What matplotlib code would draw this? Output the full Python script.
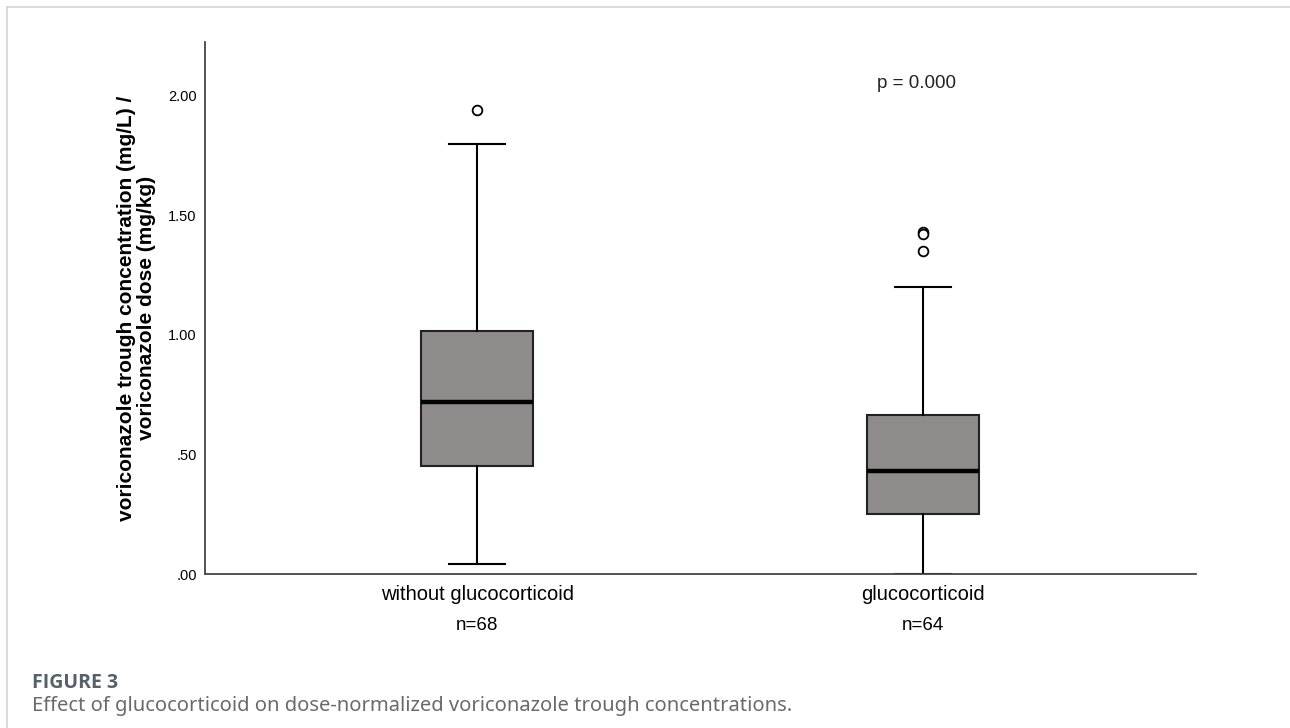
import matplotlib.pyplot as plt
from matplotlib.lines import Line2D

# summary statistics for each group
groups = ["without glucocorticoid", "glucocorticoid"]
counts = ["n=68", "n=64"]
whisker_low = [0.04, 0.0]
q1 = [0.452, 0.249]
median = [0.72, 0.43]
q3 = [1.015, 0.664]
whisker_high = [1.80, 1.20]
outliers = [[1.94], [1.43, 1.42, 1.35]]
yticks = [0.0, 0.5, 1.0, 1.5, 2.0]
ytick_labels = [".00", ".50", "1.00", "1.50", "2.00"]

plt.rcParams['font.family'] = ['Liberation Sans', 'DejaVu Sans']

fig = plt.figure(figsize=(12.9, 7.28), dpi=100)
ax = fig.add_axes([205 / 1290, 1 - 574 / 728, (1196 - 205) / 1290, (574 - 42) / 728])

stats = []
for i, name in enumerate(groups):
    stats.append(dict(label=name, whislo=whisker_low[i], q1=q1[i], med=median[i],
                      q3=q3[i], whishi=whisker_high[i], fliers=outliers[i]))

ax.bxp(stats, positions=[1, 2], widths=0.251, patch_artist=True, showfliers=True,
       boxprops=dict(facecolor="#8f8b8a", edgecolor="#222222", linewidth=1.5),
       medianprops=dict(color="black", linewidth=3.2),
       whiskerprops=dict(color="black", linewidth=1.5),
       capprops=dict(color="black", linewidth=1.5),
       capwidths=0.126,
       flierprops=dict(marker="o", markersize=7, markerfacecolor="white",
                       markeredgecolor="black", markeredgewidth=1.3))

ax.set_xlim(0.39, 2.612)
ax.set_ylim(0, 2.225)
ax.set_yticks(yticks)
ax.set_yticklabels(ytick_labels, fontsize=10.5)
ax.set_xticks([1, 2])
ax.set_xticklabels(groups, fontsize=14.5)
ax.tick_params(axis="y", length=0, pad=6)
ax.tick_params(axis="x", length=0, pad=8)

for s in ["top", "right"]:
    ax.spines[s].set_visible(False)
for s in ["left", "bottom"]:
    ax.spines[s].set_color("#444444")
    ax.spines[s].set_linewidth(1.3)

# group sizes under the category labels
for i, c in enumerate(counts):
    ax.text(1 + i, -0.215, c, ha="center", va="center", fontsize=13.5, clip_on=False)

ax.text(1.985, 2.05, "p = 0.000", ha="center", va="center", fontsize=13.5, color="#222222")

ax.set_ylabel("voriconazole trough concentration (mg/L) /\nvoriconazole dose (mg/kg)",
              fontsize=15, fontweight="bold", labelpad=9, linespacing=1.05)

# outer frame and caption
fig.add_artist(Line2D([7 / 1290, 1], [1 - 7 / 728, 1 - 7 / 728], color="#d4d4d4", lw=1.2))
fig.add_artist(Line2D([7 / 1290, 7 / 1290], [0, 1 - 7 / 728], color="#d4d4d4", lw=1.2))
fig.text(32 / 1290, 1 - 683 / 728, "FIGURE 3", fontsize=14, color="#56616b",
         fontweight="bold", family=["Open Sans", "DejaVu Sans"], va="center")
fig.text(32 / 1290, 1 - 706 / 728,
         "Effect of glucocorticoid on dose-normalized voriconazole trough concentrations.",
         fontsize=14.5, color="#6a6a6a", family=["Noto Sans", "DejaVu Sans"], va="center")

fig.savefig("out.png", dpi=100)
